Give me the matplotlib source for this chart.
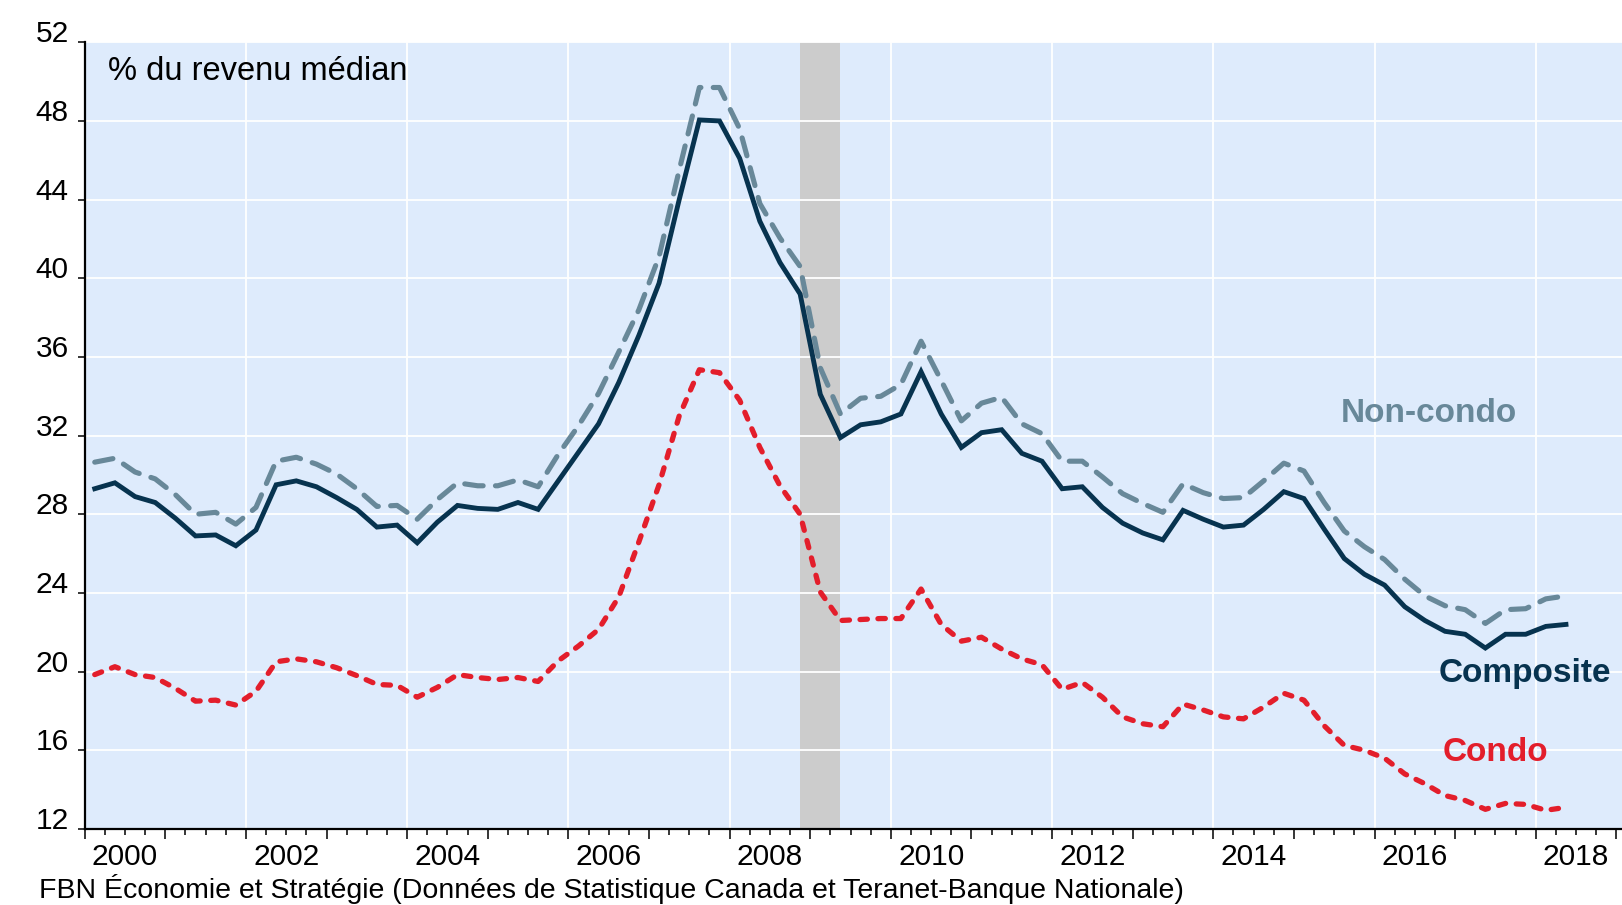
import numpy as np
import pandas as pd
import matplotlib
matplotlib.use('Agg')
import matplotlib.pyplot as plt
from matplotlib.ticker import MultipleLocator

plt.rcParams['font.family'] = ['Liberation Sans', 'DejaVu Sans']

# données trimestrielles 2000T1 - 2018T2 (% du revenu médian)
quarters = pd.period_range('2000Q1', '2018Q2', freq='Q')

composite = [29.3, 29.6, 28.9, 28.6, 27.8, 26.9, 26.95, 26.4,
             27.2, 29.5, 29.7, 29.4, 28.85, 28.25, 27.35, 27.45,
             26.55, 27.6, 28.45, 28.3, 28.25, 28.6, 28.25, 29.7,
             31.15, 32.6, 34.7, 37.1, 39.75, 44.0, 48.05, 48.0,
             46.1, 42.9, 40.8, 39.2, 34.1, 31.9, 32.55, 32.7,
             33.1, 35.25, 33.1, 31.4, 32.15, 32.3, 31.1, 30.7,
             29.3, 29.4, 28.35, 27.55, 27.05, 26.7, 28.2, 27.75,
             27.35, 27.45, 28.25, 29.15, 28.8, 27.25, 25.75, 24.95,
             24.4, 23.3, 22.6, 22.05, 21.9, 21.2, 21.9, 21.9,
             22.3, 22.4]

non_condo = [30.65, 30.85, 30.15, 29.8, 29.0, 28.0, 28.1, 27.5,
             28.35, 30.7, 30.9, 30.55, 30.05, 29.3, 28.4, 28.45,
             27.75, 28.75, 29.6, 29.45, 29.45, 29.75, 29.4, 31.05,
             32.5, 34.15, 36.25, 38.4, 41.1, 45.5, 49.7, 49.7,
             47.6, 43.8, 42.05, 40.6, 35.45, 33.1, 33.9, 34.0,
             34.6, 36.8, 34.8, 32.75, 33.65, 33.95, 32.6, 32.1,
             30.7, 30.7, 29.9, 29.05, 28.55, 28.1, 29.55, 29.1,
             28.8, 28.85, 29.7, 30.6, 30.2, 28.6, 27.15, 26.35,
             25.7, 24.7, 23.85, 23.35, 23.15, 22.45, 23.15, 23.2,
             23.7, 23.85]

condo = [19.85, 20.25, 19.85, 19.7, 19.15, 18.5, 18.55, 18.3,
         19.0, 20.5, 20.65, 20.5, 20.2, 19.8, 19.35, 19.3,
         18.7, 19.2, 19.85, 19.7, 19.6, 19.7, 19.5, 20.55,
         21.3, 22.15, 23.8, 26.6, 29.5, 33.0, 35.35, 35.2,
         33.8, 31.4, 29.45, 28.0, 24.05, 22.6, 22.65, 22.7,
         22.7, 24.2, 22.4, 21.55, 21.75, 21.15, 20.65, 20.35,
         19.1, 19.45, 18.7, 17.7, 17.35, 17.2, 18.35, 18.05,
         17.7, 17.6, 18.2, 18.9, 18.55, 17.25, 16.25, 16.0,
         15.6, 14.8, 14.3, 13.7, 13.45, 13.0, 13.3, 13.25,
         12.95, 13.1]

year_labels = ['2000', '2002', '2004', '2006', '2008', '2010',
               '2012', '2014', '2016', '2018']
recession = pd.period_range('2008Q4', '2009Q2', freq='Q')

# position au milieu du trimestre
def mid_quarter(p):
    return p.year + (p.quarter - 1) * 0.25 + 0.125

x = mid_quarter(quarters)

c_composite = '#07334F'
c_noncondo = '#688899'
c_condo = '#E31E2B'
bg = '#DEEBFC'

fig = plt.figure(figsize=(16.22, 9.05), dpi=100)
ax = fig.add_axes([0.0522, 0.084, 0.9478, 0.8693])
ax.set_facecolor(bg)

ax.axvspan(mid_quarter(recession[0]), mid_quarter(recession[-1]),
           color='#CCCCCC', lw=0, zorder=0.3)

ax.plot(x, non_condo, color=c_noncondo, lw=3.7, ls=(0, (3.6, 2.4)),
        dash_capstyle='round', zorder=3)
ax.plot(x, composite, color=c_composite, lw=3.5, solid_joinstyle='miter', zorder=4)
ax.plot(x, condo, color=c_condo, lw=3.8, ls=(0, (1.4, 2.0)),
        dash_capstyle='round', zorder=3)

ax.set_xlim(2000, 2019.07)
ax.set_ylim(12, 52)
ax.yaxis.set_major_locator(MultipleLocator(4))
ax.xaxis.set_major_locator(MultipleLocator(1))
ax.xaxis.set_minor_locator(MultipleLocator(0.25))
ax.set_xticklabels([])

# grille blanche : tous les 4 points et toutes les 2 années
ax.grid(axis='y', color='white', lw=1.3, zorder=1)
for yr in range(2002, 2019, 2):
    ax.axvline(yr, color='white', lw=1.3, zorder=1)

for s in ['top', 'right']:
    ax.spines[s].set_visible(False)
for s in ['left', 'bottom']:
    ax.spines[s].set_linewidth(1.6)
    ax.spines[s].set_zorder(5)

ax.tick_params(axis='y', direction='out', length=5, width=1.1, pad=6.5, labelsize=21.5)
ax.tick_params(axis='x', which='major', direction='out', length=7.5, width=1.1)
ax.tick_params(axis='x', which='minor', direction='out', length=4.5, width=1.1)
for lab in ax.get_yticklabels():
    lab.set_verticalalignment('baseline')

for lab in year_labels:
    ax.annotate(lab, xy=(int(lab) + 0.5, 0), xycoords=('data', 'axes fraction'),
                xytext=(0, -10), textcoords='offset points',
                ha='center', va='top', fontsize=21.5)

fig.text(0.0666, 0.9116, '% du revenu médian', fontsize=23.5, va='baseline')
fig.text(0.024, 0.008,
         'FBN Économie et Stratégie (Données de Statistique Canada et Teranet-Banque Nationale)',
         fontsize=20.5, va='baseline')

ax.text(2016.68, 33.1, 'Non-condo', color=c_noncondo, fontsize=24,
        fontweight='bold', ha='center', va='center')
ax.text(2017.87, 19.9, 'Composite', color=c_composite, fontsize=24,
        fontweight='bold', ha='center', va='center')
ax.text(2017.5, 15.9, 'Condo', color=c_condo, fontsize=24,
        fontweight='bold', ha='center', va='center')

fig.savefig('out.png', dpi=100)
